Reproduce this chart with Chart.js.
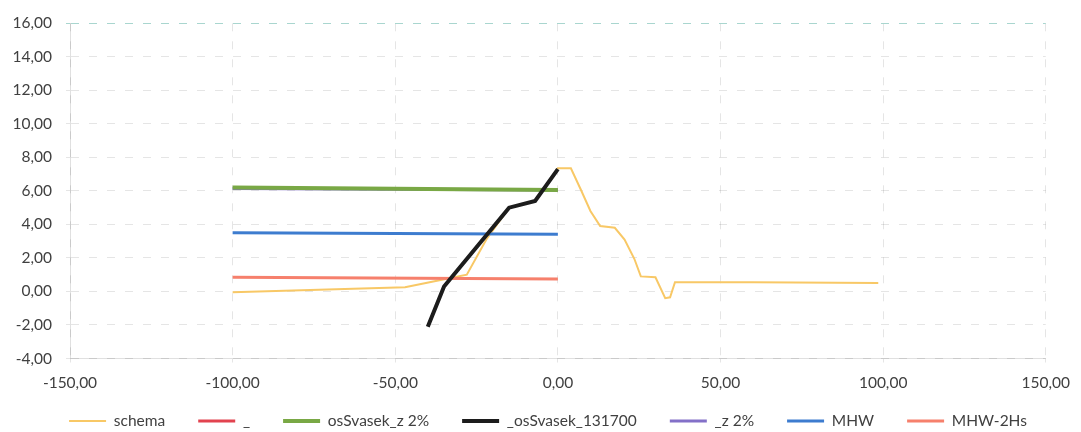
<!DOCTYPE html>
<html>
<head>
<meta charset="utf-8">
<script src="https://cdn.jsdelivr.net/npm/chart.js@4"></script>
<style>
  html, body { margin: 0; padding: 0; background: #fff; }
  #wrap { width: 1081px; height: 432px; }
</style>
</head>
<body>
<div id="wrap"><canvas id="chart" width="1081" height="432"></canvas></div>
<script>
// series values (x, y)
const schemaX = [-100, -47, -33, -28, -22, -15, -7, 0, 4, 7, 10, 13, 17.5, 20.5, 23.5, 25.5, 30, 33, 34.5, 36, 60, 98.5];
const schemaY = [-0.05, 0.25, 0.8, 1.0, 3.1, 5.0, 5.4, 7.35, 7.35, 6.1, 4.8, 3.9, 3.8, 3.1, 1.95, 0.9, 0.85, -0.4, -0.35, 0.55, 0.55, 0.5];
const redX = [];
const redY = [];
const greenX = [-100, 0];
const greenY = [6.2, 6.05];
const blackX = [-40, -35, -15, -7, 0];
const blackY = [-2.1, 0.3, 5.0, 5.4, 7.3];
const purpleX = [-100, 0];
const purpleY = [6.15, 6.05];
const mhwX = [-100, 0];
const mhwY = [3.5, 3.42];
const mhw2X = [-100, 0];
const mhw2Y = [0.85, 0.75];

const xTicks = [-150, -100, -50, 0, 50, 100, 150];
const yTicks = [-4, -2, 0, 2, 4, 6, 8, 10, 12, 14, 16];

const pts = (xs, ys) => xs.map((x, i) => ({ x: x, y: ys[i] }));
const fmt = v => v.toFixed(2).replace('.', ',');

// draw order (lower = on top), legend keeps dataset order
const drawOrder = [6, 5, 2, 0, 3, 4, 1];

const line = (label, xs, ys, color, width, i) => ({
  label: label,
  data: pts(xs, ys),
  borderColor: color,
  backgroundColor: color,
  borderWidth: width,
  pointRadius: 0,
  tension: 0,
  fill: false,
  order: drawOrder[i]
});

// legend sits a bit higher / further right than the layout puts it
const legendNudge = {
  id: 'legendNudge',
  afterLayout(chart) {
    const lg = chart.legend;
    if (!lg) return;
    lg.top -= 12.25;
    lg.left += 22; lg.right += 22;
  }
};

new Chart(document.getElementById('chart'), {
  type: 'line',
  plugins: [legendNudge],
  data: {
    datasets: [
      line('schema', schemaX, schemaY, '#f8c866', 2, 0),
      line('_', redX, redY, '#e2434f', 3, 1),
      line('osSvasek_z 2%', greenX, greenY, '#79a845', 4, 2),
      line('_osSvasek_131700', blackX, blackY, '#1c1c1c', 4, 3),
      line('_z 2%', purpleX, purpleY, '#8370c8', 3, 4),
      line('MHW', mhwX, mhwY, '#3d7ccf', 3, 5),
      line('MHW-2Hs', mhw2X, mhw2Y, '#f6806c', 3, 6)
    ]
  },
  options: {
    responsive: false,
    animation: false,
    layout: { padding: { left: 0, right: 29, top: 20, bottom: 0 } },
    plugins: {
      tooltip: { enabled: false },
      legend: {
        position: 'bottom',
        maxHeight: 39.5,
        labels: {
          sort: (a, b) => a.datasetIndex - b.datasetIndex,
          usePointStyle: true,
          pointStyle: 'line',
          pointStyleWidth: 37,
          boxHeight: 16,
          padding: 33,
          color: '#404040',
          font: { family: 'Lato', size: 15.5 }
        }
      }
    },
    scales: {
      x: {
        type: 'linear',
        min: -150,
        max: 150,
        afterBuildTicks: s => { s.ticks = xTicks.map(v => ({ value: v })); },
        afterFit: s => { s.height = 34; },
        ticks: {
          callback: v => fmt(v),
          color: '#404040',
          font: { family: 'Lato', size: 15.5 },
          padding: 11,
          maxRotation: 0
        },
        grid: { color: 'rgba(0,0,0,0.1)', tickLength: 4 },
        border: { display: true, color: 'rgba(0,0,0,0.12)', dash: [8, 10] }
      },
      y: {
        min: -4,
        max: 16,
        afterBuildTicks: s => { s.ticks = yTicks.map(v => ({ value: v })); },
        afterFit: s => { s.width = 70; },
        ticks: {
          callback: v => fmt(v),
          color: '#404040',
          font: { family: 'Lato', size: 15.5 },
          padding: 14
        },
        grid: {
          color: c => c.tick && c.tick.value === 16 ? '#a9d6cf' : 'rgba(0,0,0,0.1)',
          tickLength: 4
        },
        border: { display: true, color: 'rgba(0,0,0,0.12)', dash: [8, 10] }
      }
    }
  }
});
</script>
</body>
</html>
